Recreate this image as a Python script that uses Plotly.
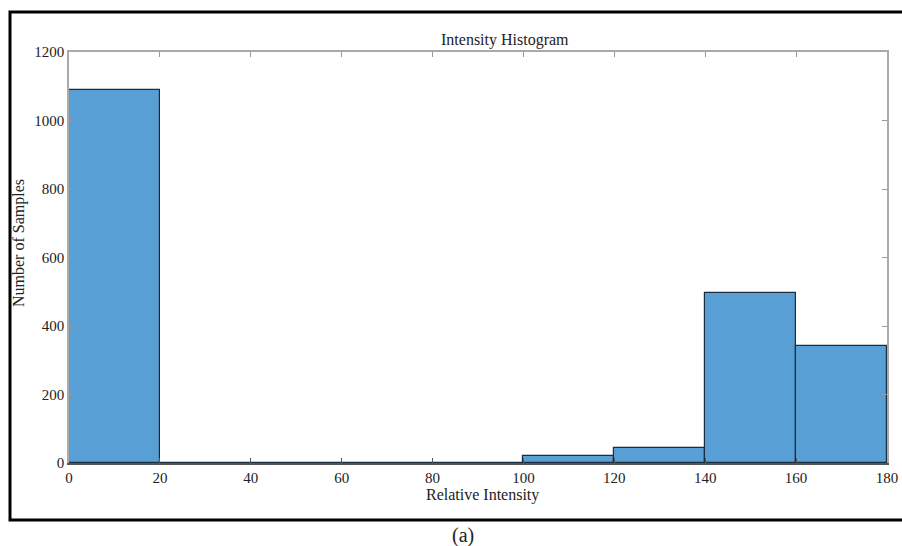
import plotly.graph_objects as go

bin_edges = [0, 20, 40, 60, 80, 100, 120, 140, 160, 180]
counts = [1089, 0, 0, 0, 0, 21, 45, 497, 342]
x_ticks = [0, 20, 40, 60, 80, 100, 120, 140, 160, 180]
y_ticks = [0, 200, 400, 600, 800, 1000, 1200]

title_text = "Intensity Histogram"
x_title = "Relative Intensity"
y_title = "Number of Samples"
caption = "(a)"

centers = [(bin_edges[i] + bin_edges[i + 1]) / 2 for i in range(len(counts))]
widths = [bin_edges[i + 1] - bin_edges[i] for i in range(len(counts))]

W, H = 902, 546
L, R, T, B = 69, 887, 52, 463
pw, ph = R - L, B - T

def px(x):
    return (x - L) / pw

def py(y):
    return (B - y) / ph

FONT = "Liberation Serif, Times New Roman, serif"

fig = go.Figure()
fig.add_trace(go.Bar(
    x=centers, y=counts, width=widths,
    marker=dict(color="#589FD6", line=dict(color="#1d2d3d", width=1.2)),
    showlegend=False, hoverinfo="x+y",
))
# invisible trace to make the top (mirror) axis render
fig.add_trace(go.Scatter(x=[bin_edges[0]], y=[0], xaxis="x2", mode="markers",
                         marker=dict(opacity=0), showlegend=False, hoverinfo="skip"))

fig.update_layout(
    width=W, height=H,
    margin=dict(l=L, r=W - R, t=T, b=H - B, autoexpand=False),
    paper_bgcolor="white", plot_bgcolor="white",
    font=dict(family=FONT, size=15, color="#222"),
    bargap=0,
    xaxis=dict(
        range=[0, 180], tickvals=x_ticks, ticktext=[str(v) for v in x_ticks],
        showgrid=False, zeroline=False, showline=True, linecolor="#555", linewidth=1.5,
        ticks="inside", ticklen=5, tickcolor="#555", mirror=False, automargin=False,
        tickfont=dict(family=FONT, size=15, color="#222"),
    ),
    xaxis2=dict(
        overlaying="x", side="top", range=[0, 180], tickvals=x_ticks,
        showticklabels=False, showgrid=False, zeroline=False, showline=True, automargin=False,
        linecolor="#aaa", linewidth=1.5, ticks="inside", ticklen=5, tickcolor="#999",
    ),
    yaxis=dict(
        range=[0, 1200], tickvals=y_ticks, ticktext=[str(v) for v in y_ticks],
        showgrid=False, zeroline=False, showline=True, linecolor="#aaa", linewidth=1.5,
        ticks="inside", ticklen=5, tickcolor="#999", mirror="ticks", automargin=False,
        tickfont=dict(family=FONT, size=15, color="#222"),
    ),
)

# outer frame
fig.add_shape(type="rect", xref="paper", yref="paper",
              x0=px(10), x1=px(910), y0=py(520), y1=py(12),
              line=dict(color="black", width=3), fillcolor="rgba(0,0,0,0)", layer="above")

fig.add_annotation(text=title_text, xref="paper", yref="paper", x=px(505), y=py(40),
                   showarrow=False, font=dict(family=FONT, size=16, color="#222"),
                   xanchor="center", yanchor="middle")
fig.add_annotation(text=x_title, xref="paper", yref="paper", x=px(482), y=py(495),
                   showarrow=False, font=dict(family=FONT, size=16, color="#222"),
                   xanchor="center", yanchor="middle")
fig.add_annotation(text=y_title, xref="paper", yref="paper", x=px(19), y=py(243),
                   showarrow=False, textangle=-90, font=dict(family=FONT, size=16, color="#222"),
                   xanchor="center", yanchor="middle")
fig.add_annotation(text=caption, xref="paper", yref="paper", x=px(463), y=py(535),
                   showarrow=False, font=dict(family=FONT, size=20, color="#222"),
                   xanchor="center", yanchor="middle")

fig.write_html(
    "out.html",
    config={"displayModeBar": False},
    post_script="document.body.style.margin='0';document.body.style.overflow='hidden';",
)
